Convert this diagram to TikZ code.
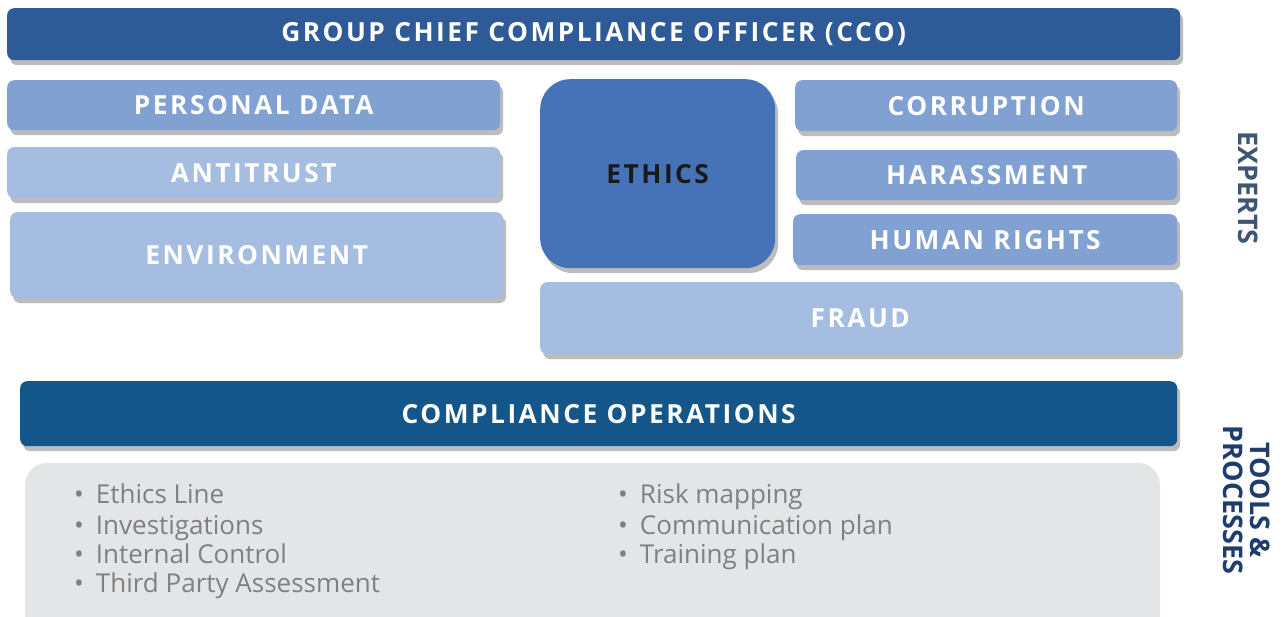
\documentclass[tikz,border=0pt]{standalone}
\usepackage{fontspec}
\setmainfont{Open Sans}
\newfontfamily\capsfont{Open Sans}[LetterSpace=9.5]
\usetikzlibrary{shadows}
\definecolor{ccoblue}{RGB}{46,90,152}
\definecolor{midblue}{RGB}{128,161,209}
\definecolor{paleblue}{RGB}{164,189,224}
\definecolor{ethicsblue}{RGB}{70,115,183}
\definecolor{opsblue}{RGB}{20,86,138}
\definecolor{toolgray}{RGB}{228,229,231}
\definecolor{itemgray}{RGB}{128,128,128}
\definecolor{expertcol}{RGB}{62,85,115}
\definecolor{toolcol}{RGB}{31,60,110}

\begin{document}
\begin{tikzpicture}[x=1pt,y=-1pt,
   box/.style={rounded corners=7pt,anchor=north west,inner sep=0pt,
               text=white,font=\capsfont\bfseries\fontsize{26.3}{28}\selectfont,
               drop shadow={shadow xshift=3pt,shadow yshift=-5pt,
                            opacity=0.35,fill=black!75}},
   item/.style={anchor=base west,inner sep=0pt,text=itemgray,
                font=\fontsize{26}{28}\selectfont},
   side/.style={rotate=-90,inner sep=0pt,align=center,
                font=\bfseries\fontsize{27}{27}\selectfont}]
  \useasboundingbox[fill=white] (0,0) rectangle (1287,617);

  % top of the chart
  \node[box,fill=ccoblue,minimum width=1173pt,minimum height=52pt,drop shadow={opacity=0}] (cco) at (7,8)
        {GROUP CHIEF COMPLIANCE OFFICER (CCO)};

  % experts, left column
  \node[box,fill=midblue,minimum width=493pt,minimum height=50pt] (pdata) at (7,80) {PERSONAL DATA};
  \node[box,fill=paleblue,minimum width=493pt,minimum height=51pt] (antitrust) at (7,147) {ANTITRUST};
  \node[box,fill=paleblue,minimum width=493pt,minimum height=86pt] (env) at (10,212) {ENVIRONMENT};

  % experts, right column
  \node[box,fill=ethicsblue,rounded corners=30pt,text=black!90,
        minimum width=235pt,minimum height=189pt] (ethics) at (540,79) {ETHICS};
  \node[box,fill=midblue,minimum width=382pt,minimum height=51pt] (corr) at (795,80) {CORRUPTION};
  \node[box,fill=midblue,minimum width=381pt,minimum height=50pt] (harass) at (796,150) {HARASSMENT};
  \node[box,fill=midblue,minimum width=384pt,minimum height=51pt] (hrights) at (793,214) {HUMAN RIGHTS};
  \node[box,fill=paleblue,minimum width=640pt,minimum height=72pt] (fraud) at (540,282) {FRAUD};

  % operations
  \node[box,fill=opsblue,minimum width=1157pt,minimum height=65pt] (ops) at (20,381) {COMPLIANCE OPERATIONS};
  \fill[toolgray,rounded corners=22pt] (25,463) rectangle (1160,640);

  \node[item] (i1) at (74,503) {\textbullet\hspace{12pt}Ethics Line};
  \node[item] (i2) at (74,534) {\textbullet\hspace{12pt}Investigations};
  \node[item] (i3) at (74,563) {\textbullet\hspace{12pt}Internal Control};
  \node[item] (i4) at (74,592) {\textbullet\hspace{12pt}Third Party Assessment};
  \node[item] (i5) at (618,503) {\textbullet\hspace{12pt}Risk mapping};
  \node[item] (i6) at (618,534) {\textbullet\hspace{12pt}Communication plan};
  \node[item] (i7) at (618,563) {\textbullet\hspace{12pt}Training plan};

  % side labels
  \node[side,text=expertcol] (experts) at (1248,188) {EXPERTS};
  \node[side,text=toolcol] (tools) at (1247,500) {TOOLS \&\\PROCESSES};
\end{tikzpicture}
\end{document}
